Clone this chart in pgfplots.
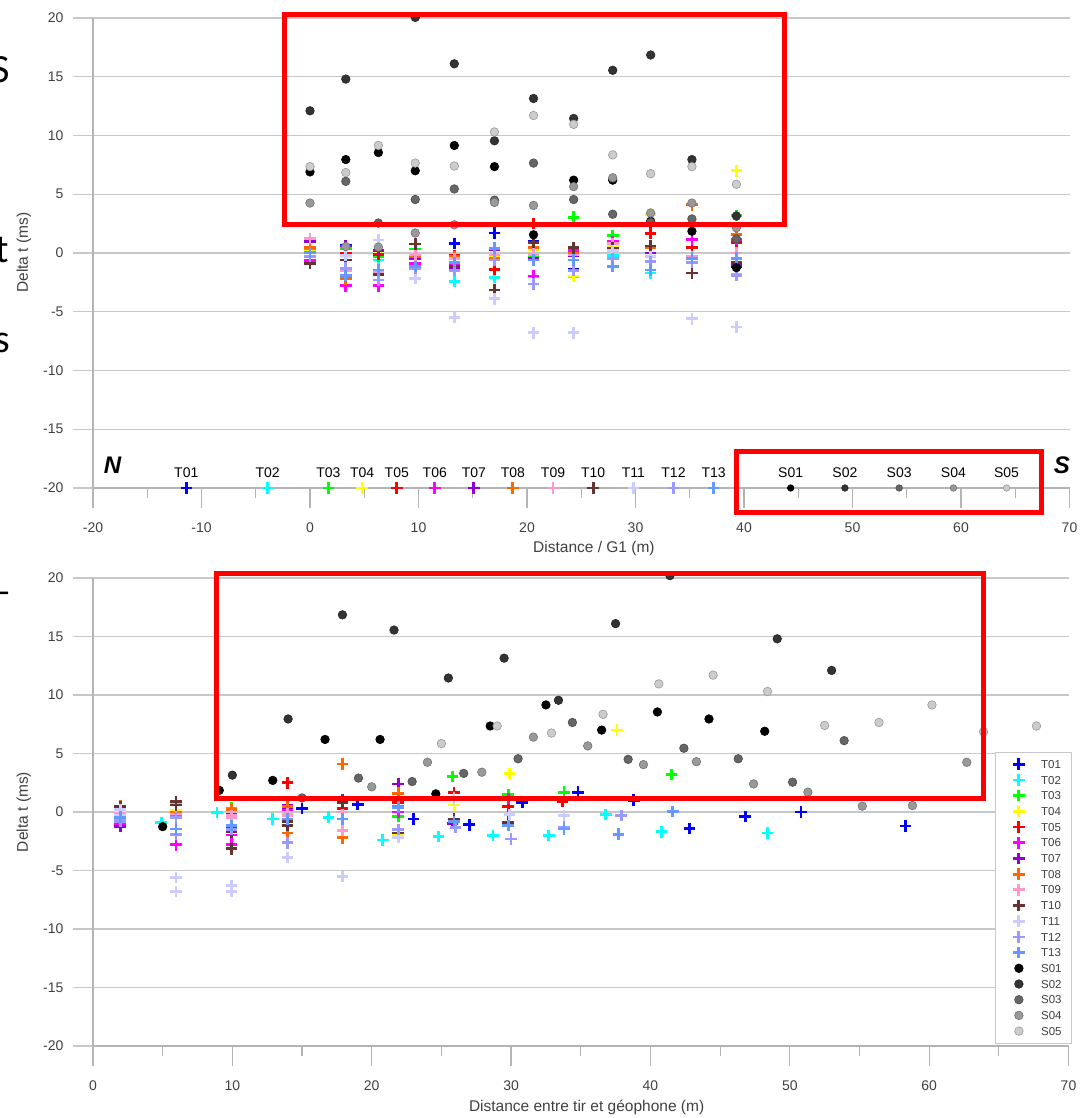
\documentclass[border=0pt]{standalone}
\usepackage{pgfplots}
\pgfplotsset{compat=1.18}
\usepackage{fontspec}
\setmainfont{Liberation Sans}
\newfontfamily\slidefont{Carlito}
\definecolor{cT01}{HTML}{0000FF}
\definecolor{cT02}{HTML}{00FFFF}
\definecolor{cT03}{HTML}{00FF00}
\definecolor{cT04}{HTML}{FFFF00}
\definecolor{cT05}{HTML}{FF0000}
\definecolor{cT06}{HTML}{FF00FF}
\definecolor{cT07}{HTML}{9400D3}
\definecolor{cT08}{HTML}{FF6600}
\definecolor{cT09}{HTML}{FF99CC}
\definecolor{cT10}{HTML}{663333}
\definecolor{cT11}{HTML}{CCCCFF}
\definecolor{cT12}{HTML}{9999FF}
\definecolor{cT13}{HTML}{6699FF}
\definecolor{cS01}{HTML}{000000}
\definecolor{cS02}{HTML}{333333}
\definecolor{cS03}{HTML}{666666}
\definecolor{cS04}{HTML}{999999}
\definecolor{cS05}{HTML}{CCCCCC}
\definecolor{gridc}{HTML}{C8C8C8}
\definecolor{axisc}{HTML}{B4B4B4}
\definecolor{tickc}{HTML}{404040}
\pgfplotsset{
  tc/.style={only marks, mark=+, mark size=5.8pt, line width=2.8pt, color=#1},
  sc/.style={only marks, mark=*, mark size=4.3pt, color=#1, mark options={fill=#1, draw=#1!75!black, line width=0.6pt}},
  base/.style={
    scale only axis, clip=false,
    ymin=-20, ymax=20,
    ytick={-20,-15,-10,-5,0,5,10,15,20},
    yticklabels={-20,-15,-10,-5,0,5,10,15,20},
    axis x line*=bottom, axis y line*=left,
    axis line style={axisc, line width=1.3pt},
    ymajorgrids, major grid style={gridc, line width=1.3pt},
    tick align=outside, major tick length=20pt, minor tick length=10pt,
    ytick style={gridc, line width=1.3pt},
    xtick style={axisc, line width=1.2pt},
    minor x tick num=1,
    ticklabel style={font=\fontsize{14}{16}\selectfont, text=tickc},
    yticklabel style={xshift=-6pt},
    xticklabel style={yshift=-11pt},
    label style={font=\fontsize{15.5}{18}\selectfont, text=tickc},
  },
}
\begin{document}
\begin{tikzpicture}
\useasboundingbox (0,0) rectangle (1081pt,1118pt);
% ---------------- top axis ----------------
\begin{axis}[base, at={(93pt,630pt)}, anchor=south west, width=976.5pt, height=470pt,
  xmin=-20, xmax=70, xtick={-20,-10,0,10,20,30,40,50,60,70},
  xticklabels={-20,-10,0,10,20,30,40,50,60,70},
  xlabel={Distance / G1 (m)}, ylabel={Delta t (ms)},
  xlabel style={at={(axis description cs:0.513,-0.1277)}, anchor=center},
  ylabel style={at={(axis description cs:-0.0707,0.501)}, anchor=center},
]
\addplot[tc=cT01] coordinates {(0,0.3)(3.3,0.65)(6.3,-0.6)(9.7,-1.1)(13.3,0.8)(17.0,1.7)(20.6,1.0)(24.3,-1.4)(27.9,-0.4)(31.4,0.0)(39.3,-1.2)};
\addplot[tc=cT02] coordinates {(0,-0.9)(3.3,-0.05)(6.3,-0.6)(9.7,-0.45)(13.3,-2.4)(17.0,-2.1)(20.6,-2.0)(24.3,-2.0)(27.9,-0.2)(31.4,-1.7)(39.3,-1.8)};
\addplot[tc=cT03] coordinates {(0,0.2)(3.3,0.4)(6.3,-0.3)(9.7,0.34)(13.3,-0.3)(17.0,0.3)(20.6,-0.4)(24.3,3.05)(27.9,1.5)(31.4,1.7)(39.3,3.2)};
\addplot[tc=cT04] coordinates {(0,0.1)(3.3,-0.3)(6.3,0.0)(9.7,-0.5)(13.3,-0.4)(17.0,-0.2)(20.6,0.25)(24.3,-1.96)(27.9,0.6)(31.4,3.3)(39.3,7.0)};
\addplot[tc=cT05] coordinates {(0,-0.3)(3.3,0.0)(6.3,-0.1)(9.7,-0.5)(13.3,-0.2)(17.0,-1.4)(20.6,2.5)(24.3,0.3)(27.9,0.8)(31.4,1.68)(35.2,0.5)(39.3,0.9)};
\addplot[tc=cT06] coordinates {(0,-0.62)(3.3,-2.8)(6.3,-2.8)(9.7,-0.9)(13.3,-1.0)(17.0,-0.5)(20.6,-1.96)(24.3,0.2)(27.9,0.97)(31.4,0.0)(35.2,1.16)(39.3,1.16)};
\addplot[tc=cT07] coordinates {(0,1.0)(3.3,0.6)(6.3,0.2)(9.7,-0.37)(13.3,-1.25)(17.0,0.3)(20.6,-0.5)(24.3,-0.2)(27.9,0.4)(31.4,0.0)(35.2,2.4)(39.3,-1.0)};
\addplot[tc=cT08] coordinates {(0,0.45)(3.3,-2.2)(6.3,-1.8)(9.7,-0.3)(13.3,-0.3)(17.0,-0.5)(20.6,0.5)(24.3,0.0)(27.9,0.2)(31.4,0.5)(35.2,4.1)(39.3,1.6)};
\addplot[tc=cT09] coordinates {(0,1.25)(3.3,-1.5)(6.3,-1.55)(9.7,-0.17)(13.3,-0.5)(17.0,-0.17)(20.6,-0.1)(24.3,-0.17)(27.9,0.8)(31.4,-0.3)(35.2,-0.3)(39.3,0.0)};
\addplot[tc=cT10] coordinates {(0,-0.88)(3.3,-0.6)(6.3,-1.8)(9.7,0.77)(13.3,-1.16)(17.0,-3.15)(20.6,0.9)(24.3,0.45)(27.9,0.4)(31.4,0.6)(35.2,-1.7)(39.3,-0.8)};
\addplot[tc=cT11] coordinates {(0,-0.3)(3.3,-0.2)(6.3,1.1)(9.7,-2.16)(13.3,-5.5)(17.0,-3.9)(20.6,-6.8)(24.3,-6.8)(27.9,0.2)(31.4,-0.3)(35.2,-5.6)(39.3,-6.3)};
\addplot[tc=cT12] coordinates {(0,-0.3)(3.3,-1.3)(6.3,-2.3)(9.7,-1.3)(13.3,-1.5)(17.0,-0.6)(20.6,-2.64)(24.3,-1.5)(27.9,-0.5)(31.4,-0.74)(35.2,-0.8)(39.3,-1.9)};
\addplot[tc=cT13] coordinates {(0,0.03)(3.3,-1.9)(6.3,-1.45)(9.7,-1.16)(13.3,-0.8)(17.0,0.4)(20.6,-0.6)(24.3,-0.6)(27.9,-1.16)(31.4,-1.45)(35.2,-0.45)(39.3,-0.45)};
\addplot[sc=cS01] coordinates {(0,6.9)(3.3,7.95)(6.3,8.55)(9.7,7.0)(13.3,9.15)(17.0,7.35)(20.6,1.55)(24.3,6.2)(27.9,6.2)(31.4,2.7)(35.2,1.85)(39.3,-1.25)};
\addplot[sc=cS02] coordinates {(0,12.1)(3.3,14.8)(9.7,20.05)(13.3,16.1)(17.0,9.55)(20.6,13.15)(24.3,11.45)(27.9,15.55)(31.4,16.85)(35.2,7.95)(39.3,3.15)};
\addplot[sc=cS03] coordinates {(3.3,6.1)(6.3,2.55)(9.7,4.55)(13.3,5.45)(17.0,4.5)(20.6,7.65)(24.3,4.55)(27.9,3.3)(31.4,2.6)(35.2,2.9)(39.3,1.2)};
\addplot[sc=cS04] coordinates {(0,4.25)(3.3,0.55)(6.3,0.5)(9.7,1.7)(13.3,2.4)(17.0,4.3)(20.6,4.05)(24.3,5.65)(27.9,6.4)(31.4,3.4)(35.2,4.25)(39.3,2.15)};
\addplot[sc=cS05] coordinates {(0,7.35)(3.3,6.85)(6.3,9.15)(9.7,7.65)(13.3,7.4)(17.0,10.3)(20.6,11.7)(24.3,10.95)(27.9,8.35)(31.4,6.75)(35.2,7.35)(39.3,5.85)};
% source positions along the line
\addplot[tc=cT01] coordinates {(-11.4,-20)};
\addplot[tc=cT02] coordinates {(-3.9,-20)};
\addplot[tc=cT03] coordinates {(1.7,-20)};
\addplot[tc=cT04] coordinates {(4.8,-20)};
\addplot[tc=cT05] coordinates {(8.0,-20)};
\addplot[tc=cT06] coordinates {(11.5,-20)};
\addplot[tc=cT07] coordinates {(15.1,-20)};
\addplot[tc=cT08] coordinates {(18.7,-20)};
\addplot[tc=cT09] coordinates {(22.4,-20)};
\addplot[tc=cT10] coordinates {(26.1,-20)};
\addplot[tc=cT11] coordinates {(29.8,-20)};
\addplot[tc=cT12] coordinates {(33.5,-20)};
\addplot[tc=cT13] coordinates {(37.2,-20)};
\addplot[sc=cS01, mark size=3.3pt] coordinates {(44.3,-20)};
\addplot[sc=cS02, mark size=3.3pt] coordinates {(49.3,-20)};
\addplot[sc=cS03, mark size=3.3pt] coordinates {(54.3,-20)};
\addplot[sc=cS04, mark size=3.3pt] coordinates {(59.3,-20)};
\addplot[sc=cS05, mark size=3.3pt] coordinates {(64.2,-20)};
\foreach \lx/\lt in {-11.4/T01,-3.9/T02,1.7/T03,4.8/T04,8.0/T05,11.5/T06,15.1/T07,18.7/T08,22.4/T09,26.1/T10,29.8/T11,33.5/T12,37.2/T13,44.3/S01,49.3/S02,54.3/S03,59.3/S04,64.2/S05}{
  \edef\tmp{\noexpand\node[anchor=base, inner sep=0pt, font=\noexpand\fontsize{14}{16}\noexpand\selectfont, text=black] at (axis cs:\lx,-20) [yshift=10pt] {\lt};}\tmp
}
\node[font=\fontsize{24}{28}\selectfont\bfseries\itshape] at (axis cs:-18.2,-18.06) {N};
\node[font=\fontsize{24}{28}\selectfont\bfseries\itshape] at (axis cs:69.3,-18.06) {S};
\end{axis}
% ---------------- bottom axis ----------------
\begin{axis}[base, at={(93pt,72pt)}, anchor=south west, width=975.5pt, height=468pt,
  xmin=0, xmax=70, xtick={0,10,20,30,40,50,60,70},
  xticklabels={0,10,20,30,40,50,60,70},
  xlabel={Distance entre tir et géophone (m)}, ylabel={Delta t (ms)},
  xlabel style={at={(axis description cs:0.506,-0.1303)}, anchor=center},
  ylabel style={at={(axis description cs:-0.0708,0.5)}, anchor=center},
  legend cell align=left,
  legend style={at={(rel axis cs:1.003,0.005)}, anchor=south east, draw=gridc, fill=white,
    font=\fontsize{11.5}{13}\selectfont, text=tickc, inner xsep=6pt, inner ysep=4.5pt, row sep=0pt,
    nodes={inner sep=3.7pt, text height=8.3pt, text depth=0pt}},
  legend image code/.code={\path[draw=none, fill=none] (0pt,-4pt) rectangle (36.2pt,4pt); \draw[#1] plot coordinates {(17.7pt,0pt)};},
]
\addplot[tc=cT01] coordinates {(15,0.3)(19,0.65)(23,-0.6)(27,-1.1)(30.8,0.8)(34.8,1.7)(38.8,1.0)(42.8,-1.4)(46.8,-0.4)(50.8,0.0)(58.3,-1.2)};
\addplot[tc=cT02] coordinates {(4.9,-0.9)(8.9,-0.05)(12.9,-0.6)(16.9,-0.45)(20.8,-2.4)(24.8,-2.1)(28.7,-2.0)(32.7,-2.0)(36.8,-0.2)(40.8,-1.7)(48.4,-1.8)};
\addplot[tc=cT03] coordinates {(1.95,0.2)(1.95,0.4)(5.95,-0.3)(9.95,0.34)(13.95,-0.3)(17.9,0.3)(21.9,-0.4)(25.8,3.05)(29.8,1.5)(33.8,1.7)(41.5,3.2)};
\addplot[tc=cT04] coordinates {(5.95,0.1)(1.95,-0.3)(1.95,0.0)(5.95,-0.5)(9.95,-0.4)(13.95,-0.2)(17.9,0.25)(21.9,-1.96)(25.9,0.6)(29.9,3.3)(37.6,7.0)};
\addplot[tc=cT05] coordinates {(9.95,-0.3)(5.95,0.0)(1.95,-0.1)(1.95,-0.5)(5.95,-0.2)(9.95,-1.4)(13.95,2.5)(17.9,0.3)(21.9,0.8)(25.9,1.68)(29.8,0.5)(33.7,0.9)};
\addplot[tc=cT06] coordinates {(13.95,-0.62)(9.95,-2.8)(5.95,-2.8)(1.95,-0.9)(1.95,-1.0)(5.95,-0.5)(9.95,-1.96)(13.95,0.2)(17.9,0.97)(21.9,0.0)(25.9,1.16)(29.8,1.16)};
\addplot[tc=cT07] coordinates {(17.9,1.0)(13.95,0.6)(9.95,0.2)(5.95,-0.37)(1.95,-1.25)(1.95,0.3)(5.95,-0.5)(9.95,-0.2)(13.95,0.4)(17.9,0.0)(21.9,2.4)(25.8,-1.0)};
\addplot[tc=cT08] coordinates {(21.9,0.45)(17.9,-2.2)(13.95,-1.8)(9.95,-0.3)(5.95,-0.3)(1.95,-0.5)(1.95,0.5)(5.95,0.0)(9.95,0.2)(13.95,0.5)(17.9,4.1)(21.9,1.6)};
\addplot[tc=cT09] coordinates {(25.9,1.25)(21.9,-1.5)(17.9,-1.55)(13.95,-0.17)(9.95,-0.5)(5.95,-0.17)(1.95,-0.1)(1.95,-0.17)(5.95,0.8)(9.95,-0.3)(13.95,-0.3)(17.9,0.0)};
\addplot[tc=cT10] coordinates {(29.8,-0.88)(25.9,-0.6)(21.9,-1.8)(17.9,0.77)(13.95,-1.16)(9.95,-3.15)(5.95,0.9)(1.95,0.45)(1.95,0.4)(5.95,0.6)(9.95,-1.7)(13.95,-0.8)};
\addplot[tc=cT11] coordinates {(33.8,-0.3)(29.9,-0.2)(25.9,1.1)(21.9,-2.16)(17.9,-5.5)(13.95,-3.9)(9.95,-6.8)(5.95,-6.8)(1.95,0.2)(1.95,-0.3)(5.95,-5.6)(9.95,-6.3)};
\addplot[tc=cT12] coordinates {(37.9,-0.3)(33.8,-1.3)(30.0,-2.3)(26.0,-1.3)(21.9,-1.5)(17.9,-0.6)(13.95,-2.64)(9.95,-1.5)(5.95,-0.5)(1.95,-0.74)(1.95,-0.8)(5.95,-1.9)};
\addplot[tc=cT13] coordinates {(41.6,0.03)(37.7,-1.9)(33.8,-1.45)(29.8,-1.16)(25.9,-0.8)(21.9,0.4)(17.9,-0.6)(13.95,-0.6)(9.95,-1.16)(5.95,-1.45)(1.95,-0.45)(1.95,-0.45)};
\addplot[sc=cS01] coordinates {(48.2,6.9)(44.2,7.95)(40.5,8.55)(36.5,7.0)(32.5,9.15)(28.5,7.35)(24.6,1.55)(20.6,6.2)(16.65,6.2)(12.9,2.7)(9.06,1.85)(5.0,-1.25)};
\addplot[sc=cS02] coordinates {(53.0,12.1)(49.1,14.8)(41.4,20.2)(37.5,16.1)(33.4,9.55)(29.5,13.15)(25.5,11.45)(21.6,15.55)(17.9,16.85)(14.0,7.95)(10.0,3.15)};
\addplot[sc=cS03] coordinates {(53.9,6.1)(50.2,2.55)(46.3,4.55)(42.4,5.45)(38.4,4.5)(34.4,7.65)(30.5,4.55)(26.6,3.3)(22.9,2.6)(19.05,2.9)(15.0,1.2)};
\addplot[sc=cS04] coordinates {(62.7,4.25)(58.8,0.55)(55.2,0.5)(51.3,1.7)(47.4,2.4)(43.3,4.3)(39.5,4.05)(35.5,5.65)(31.6,6.4)(27.9,3.4)(24.0,4.25)(20.0,2.15)};
\addplot[sc=cS05] coordinates {(67.7,7.35)(63.9,6.85)(60.2,9.15)(56.4,7.65)(52.5,7.4)(48.4,10.3)(44.5,11.7)(40.6,10.95)(36.6,8.35)(32.9,6.75)(29.0,7.35)(25.0,5.85)};
\legend{T01,T02,T03,T04,T05,T06,T07,T08,T09,T10,T11,T12,T13,S01,S02,S03,S04,S05}
\end{axis}
% ---------------- annotations ----------------
\draw[red, line width=5pt] (284.5pt,1103.5pt) rectangle (784pt,893pt);
\draw[red, line width=5pt] (736.7pt,666pt) rectangle (1041.7pt,605.3pt);
\draw[red, line width=5pt] (216.8pt,544.5pt) rectangle (983.5pt,319pt);
\node[anchor=base east, inner sep=0pt, font=\slidefont\fontsize{40}{44}\selectfont] at (10pt,1035pt) {S};
\node[anchor=base east, inner sep=0pt, font=\slidefont\fontsize{40}{44}\selectfont] at (9pt,855pt) {t};
\node[anchor=base east, inner sep=0pt, font=\slidefont\fontsize{40}{44}\selectfont] at (10pt,765pt) {s};
\node[anchor=base east, inner sep=0pt, font=\slidefont\fontsize{40}{44}\selectfont] at (12pt,513pt) {–};
\end{tikzpicture}
\end{document}
